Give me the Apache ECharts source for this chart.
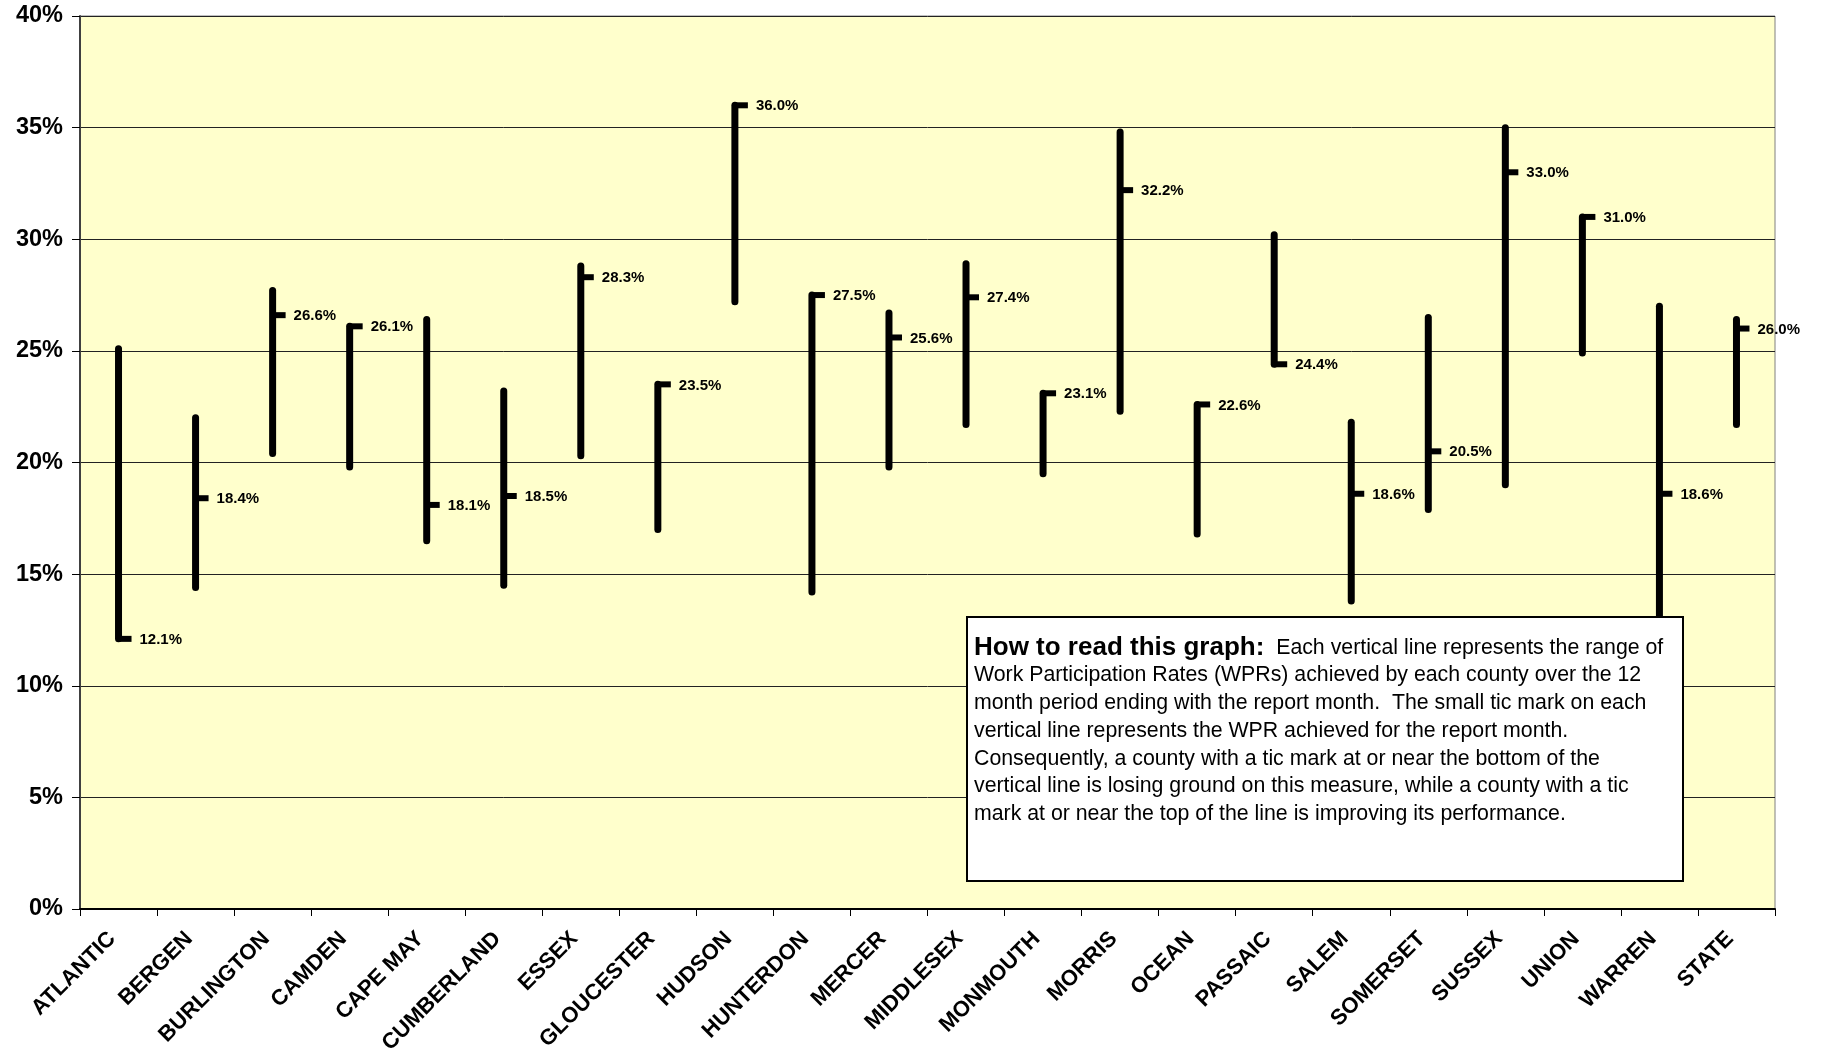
<!DOCTYPE html>
<html>
<head>
<meta charset="utf-8">
<script src="https://cdn.jsdelivr.net/npm/echarts@6/dist/echarts.min.js"></script>
<style>
html,body{margin:0;padding:0;background:#ffffff;}
#chart{width:1821px;height:1053px;}
</style>
</head>
<body>
<div id="chart"></div>
<script>
// ---- data ----
const counties = ["ATLANTIC","BERGEN","BURLINGTON","CAMDEN","CAPE MAY","CUMBERLAND","ESSEX","GLOUCESTER","HUDSON","HUNTERDON","MERCER","MIDDLESEX","MONMOUTH","MORRIS","OCEAN","PASSAIC","SALEM","SOMERSET","SUSSEX","UNION","WARREN","STATE"];
const lowValues     = [12.1, 14.4, 20.4, 19.8, 16.5, 14.5, 20.3, 17.0, 27.2, 14.2, 19.8, 21.7, 19.5, 22.3, 16.8, 24.4, 13.8, 17.9, 19.0, 24.9, 11.5, 21.7];
const highValues    = [25.1, 22.0, 27.7, 26.1, 26.4, 23.2, 28.8, 23.5, 36.0, 27.5, 26.7, 28.9, 23.1, 34.8, 22.6, 30.2, 21.8, 26.5, 35.0, 31.0, 27.0, 26.4];
const currentValues = [12.1, 18.4, 26.6, 26.1, 18.1, 18.5, 28.3, 23.5, 36.0, 27.5, 25.6, 27.4, 23.1, 32.2, 22.6, 24.4, 18.6, 20.5, 33.0, 31.0, 18.6, 26.0];
const yTicks = [0, 5, 10, 15, 20, 25, 30, 35, 40];
const noteTitle = "How to read this graph:";
const noteLines = [
  "  Each vertical line represents the range of",
  "Work Participation Rates (WPRs) achieved by each county over the 12",
  "month period ending with the report month.  The small tic mark on each",
  "vertical line represents the WPR achieved for the report month.",
  "Consequently, a county with a tic mark at or near the bottom of the",
  "vertical line is losing ground on this measure, while a county with a tic",
  "mark at or near the top of the line is improving its performance."
];

const FONT = '"Liberation Sans", Arial, sans-serif';
const seriesData = counties.map((c, i) => [i, lowValues[i], highValues[i], currentValues[i]]);

const chart = echarts.init(document.getElementById('chart'), null, {renderer: 'canvas'});

const noteRich = '{b|' + noteTitle + '}{n|' + noteLines[0] + '}\n' +
  noteLines.slice(1).map(l => '{n|' + l + '}').join('\n');

chart.setOption({
  animation: false,
  backgroundColor: '#ffffff',
  grid: {
    left: 80, right: 46, top: 16, bottom: 144,
    containLabel: false,
    outerBoundsMode: 'none',
    show: true, backgroundColor: '#FFFFCC', borderColor: '#808080', borderWidth: 1
  },
  xAxis: {
    type: 'category',
    data: counties,
    boundaryGap: true,
    axisLine: {lineStyle: {color: '#000', width: 2}},
    axisTick: {show: true, alignWithLabel: false, interval: 0, length: 7, lineStyle: {color: '#000', width: 1}},
    axisLabel: {
      interval: 0, rotate: 45, margin: 20, padding: [0, 9, 0, 0],
      fontFamily: FONT, fontWeight: 'bold', fontSize: 22, color: '#000'
    },
    splitLine: {show: false}
  },
  yAxis: {
    type: 'value',
    min: yTicks[0], max: yTicks[yTicks.length - 1], interval: yTicks[1] - yTicks[0],
    axisLine: {show: true, lineStyle: {color: '#404040', width: 2}},
    axisTick: {show: true, length: 8, lineStyle: {color: '#000', width: 1}},
    axisLabel: {
      margin: 17, formatter: '{value}%',
      fontFamily: FONT, fontWeight: 'bold', fontSize: 23.5, color: '#000'
    },
    splitLine: {show: true, lineStyle: {color: '#222', width: 1}}
  },
  series: [{
    type: 'custom',
    clip: false,
    data: seriesData,
    encode: {x: 0, y: [1, 2, 3]},
    renderItem: function (params, api) {
      const idx = api.value(0);
      const lo = api.coord([idx, api.value(1)]);
      const hi = api.coord([idx, api.value(2)]);
      const cur = api.coord([idx, api.value(3)]);
      const x = lo[0];
      return {
        type: 'group',
        children: [
          {
            type: 'line',
            shape: {x1: x, y1: hi[1], x2: x, y2: lo[1]},
            style: {stroke: '#000', lineWidth: 7, lineCap: 'round'}
          },
          {
            type: 'line',
            shape: {x1: x, y1: cur[1], x2: x + 13, y2: cur[1]},
            style: {stroke: '#000', lineWidth: 6, lineCap: 'butt'}
          },
          {
            type: 'text',
            style: {
              x: x + 21, y: cur[1] + 1,
              text: api.value(3).toFixed(1) + '%',
              fill: '#000',
              font: 'bold 15px ' + FONT,
              textAlign: 'left', textVerticalAlign: 'middle'
            }
          }
        ]
      };
    }
  }],
  graphic: [
    {
      type: 'rect', z: 100,
      shape: {x: 967, y: 617, width: 716, height: 264},
      style: {fill: '#ffffff', stroke: '#000', lineWidth: 2}
    },
    {
      type: 'text', z: 101,
      x: 974, y: 634,
      style: {
        text: noteRich,
        rich: {
          b: {fontFamily: FONT, fontWeight: 'bold', fontSize: 26, lineHeight: 27.7, fill: '#000'},
          n: {fontFamily: FONT, fontSize: 21.3, lineHeight: 27.7, fill: '#000'}
        },
        fill: '#000',
        textAlign: 'left', textVerticalAlign: 'top'
      }
    }
  ]
});
</script>
</body>
</html>
